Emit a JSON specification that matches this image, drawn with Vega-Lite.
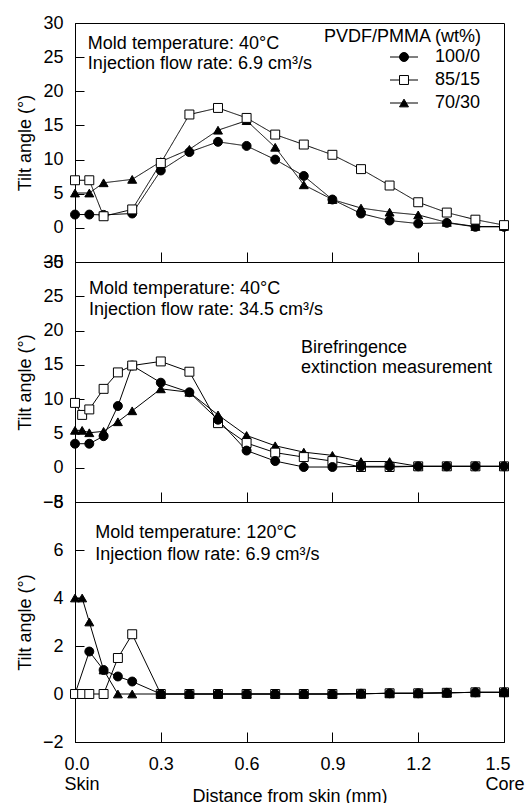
{
  "$schema": "https://vega.github.io/schema/vega-lite/v6.json",
  "padding": {"left": 15, "top": 13, "right": 0, "bottom": 0},
  "spacing": 0,
  "bounds": "flush",
  "config": {
    "font": "Liberation Sans",
    "view": {"stroke": "black", "strokeWidth": 1},
    "axis": {"grid": false, "domainColor": "black", "domainWidth": 1, "tickColor": "black", "tickWidth": 1, "labelColor": "black", "titleColor": "black", "labelFontSize": 18, "titleFontSize": 18, "titleFontWeight": "normal", "labelFont": "Liberation Sans", "titleFont": "Liberation Sans", "labelOverlap": false, "labelFlush": false},
    "concat": {"spacing": 0}
  },
  "datasets": {
    "pts": [
      {"p":1,"s":"100/0","x":0,"y":1.95},{"p":1,"s":"100/0","x":0.05,"y":1.95},{"p":1,"s":"100/0","x":0.1,"y":1.9},{"p":1,"s":"100/0","x":0.2,"y":2.1},{"p":1,"s":"100/0","x":0.3,"y":8.4},{"p":1,"s":"100/0","x":0.4,"y":11.1},{"p":1,"s":"100/0","x":0.5,"y":12.6},{"p":1,"s":"100/0","x":0.6,"y":12.0},{"p":1,"s":"100/0","x":0.7,"y":10.0},{"p":1,"s":"100/0","x":0.8,"y":7.6},{"p":1,"s":"100/0","x":0.9,"y":4.15},{"p":1,"s":"100/0","x":1.0,"y":2.1},{"p":1,"s":"100/0","x":1.1,"y":1.07},{"p":1,"s":"100/0","x":1.2,"y":0.63},{"p":1,"s":"100/0","x":1.3,"y":0.73},{"p":1,"s":"100/0","x":1.4,"y":0.15},{"p":1,"s":"100/0","x":1.5,"y":0.15},
      {"p":1,"s":"70/30","x":0,"y":5.1},{"p":1,"s":"70/30","x":0.05,"y":5.1},{"p":1,"s":"70/30","x":0.1,"y":6.6},{"p":1,"s":"70/30","x":0.2,"y":7.1},{"p":1,"s":"70/30","x":0.3,"y":9.7},{"p":1,"s":"70/30","x":0.4,"y":11.5},{"p":1,"s":"70/30","x":0.5,"y":14.3},{"p":1,"s":"70/30","x":0.6,"y":15.7},{"p":1,"s":"70/30","x":0.7,"y":11.8},{"p":1,"s":"70/30","x":0.8,"y":6.3},{"p":1,"s":"70/30","x":0.9,"y":4.15},{"p":1,"s":"70/30","x":1.0,"y":2.9},{"p":1,"s":"70/30","x":1.1,"y":2.3},{"p":1,"s":"70/30","x":1.2,"y":1.9},{"p":1,"s":"70/30","x":1.3,"y":0.8},{"p":1,"s":"70/30","x":1.4,"y":0.2},{"p":1,"s":"70/30","x":1.5,"y":0.2},
      {"p":1,"s":"85/15","x":0,"y":6.97},{"p":1,"s":"85/15","x":0.05,"y":6.97},{"p":1,"s":"85/15","x":0.1,"y":1.7},{"p":1,"s":"85/15","x":0.2,"y":2.7},{"p":1,"s":"85/15","x":0.3,"y":9.5},{"p":1,"s":"85/15","x":0.4,"y":16.6},{"p":1,"s":"85/15","x":0.5,"y":17.56},{"p":1,"s":"85/15","x":0.6,"y":16.1},{"p":1,"s":"85/15","x":0.7,"y":13.66},{"p":1,"s":"85/15","x":0.8,"y":12.2},{"p":1,"s":"85/15","x":0.9,"y":10.7},{"p":1,"s":"85/15","x":1.0,"y":8.6},{"p":1,"s":"85/15","x":1.1,"y":6.2},{"p":1,"s":"85/15","x":1.2,"y":3.75},{"p":1,"s":"85/15","x":1.3,"y":2.24},{"p":1,"s":"85/15","x":1.4,"y":1.2},{"p":1,"s":"85/15","x":1.5,"y":0.4},

      {"p":2,"s":"100/0","x":0,"y":3.5},{"p":2,"s":"100/0","x":0.05,"y":3.5},{"p":2,"s":"100/0","x":0.1,"y":4.6},{"p":2,"s":"100/0","x":0.15,"y":9.0},{"p":2,"s":"100/0","x":0.2,"y":14.9},{"p":2,"s":"100/0","x":0.3,"y":12.4},{"p":2,"s":"100/0","x":0.4,"y":11.0},
      {"p":2,"s":"70/30","x":0,"y":5.45},{"p":2,"s":"70/30","x":0.025,"y":5.45},{"p":2,"s":"70/30","x":0.05,"y":5.1},{"p":2,"s":"70/30","x":0.1,"y":5.3},{"p":2,"s":"70/30","x":0.15,"y":6.7},{"p":2,"s":"70/30","x":0.2,"y":8.3},{"p":2,"s":"70/30","x":0.3,"y":11.5},{"p":2,"s":"70/30","x":0.4,"y":11.0},{"p":2,"s":"70/30","x":0.5,"y":7.7},{"p":2,"s":"70/30","x":0.6,"y":4.7},{"p":2,"s":"70/30","x":0.7,"y":3.2},{"p":2,"s":"70/30","x":0.8,"y":2.27},{"p":2,"s":"70/30","x":0.9,"y":1.8},{"p":2,"s":"70/30","x":1.0,"y":0.9},{"p":2,"s":"70/30","x":1.1,"y":0.9},{"p":2,"s":"70/30","x":1.2,"y":0.2},{"p":2,"s":"70/30","x":1.3,"y":0.2},{"p":2,"s":"70/30","x":1.4,"y":0.2},{"p":2,"s":"70/30","x":1.5,"y":0.2},
      {"p":2,"s":"85/15","x":0,"y":9.45},{"p":2,"s":"85/15","x":0.025,"y":7.7},{"p":2,"s":"85/15","x":0.05,"y":8.5},{"p":2,"s":"85/15","x":0.1,"y":11.5},{"p":2,"s":"85/15","x":0.15,"y":13.9},{"p":2,"s":"85/15","x":0.2,"y":14.9},{"p":2,"s":"85/15","x":0.3,"y":15.5},{"p":2,"s":"85/15","x":0.4,"y":14.0},{"p":2,"s":"85/15","x":0.5,"y":6.5},{"p":2,"s":"85/15","x":0.6,"y":3.6},{"p":2,"s":"85/15","x":0.7,"y":2.2},{"p":2,"s":"85/15","x":0.8,"y":1.55},{"p":2,"s":"85/15","x":0.9,"y":0.97},{"p":2,"s":"85/15","x":1.0,"y":0.1},{"p":2,"s":"85/15","x":1.1,"y":0.1},{"p":2,"s":"85/15","x":1.2,"y":0.2},{"p":2,"s":"85/15","x":1.3,"y":0.2},{"p":2,"s":"85/15","x":1.4,"y":0.2},{"p":2,"s":"85/15","x":1.5,"y":0.2},
      {"p":2,"s":"100/0","x":0.5,"y":7.0},{"p":2,"s":"100/0","x":0.6,"y":2.5},{"p":2,"s":"100/0","x":0.7,"y":0.97},{"p":2,"s":"100/0","x":0.8,"y":0.1},{"p":2,"s":"100/0","x":0.9,"y":0.1},{"p":2,"s":"100/0","x":1.0,"y":0.2},{"p":2,"s":"100/0","x":1.1,"y":0.2},{"p":2,"s":"100/0","x":1.2,"y":0.2},{"p":2,"s":"100/0","x":1.3,"y":0.2},{"p":2,"s":"100/0","x":1.4,"y":0.2},{"p":2,"s":"100/0","x":1.5,"y":0.2},

      {"p":3,"s":"100/0","x":0,"y":0},
      {"p":3,"s":"85/15","x":0,"y":0},{"p":3,"s":"85/15","x":0.025,"y":0},{"p":3,"s":"85/15","x":0.05,"y":0},{"p":3,"s":"85/15","x":0.1,"y":0},{"p":3,"s":"85/15","x":0.15,"y":1.5},{"p":3,"s":"85/15","x":0.2,"y":2.49},{"p":3,"s":"85/15","x":0.3,"y":0},{"p":3,"s":"85/15","x":0.4,"y":0},{"p":3,"s":"85/15","x":0.5,"y":0},{"p":3,"s":"85/15","x":0.6,"y":0},{"p":3,"s":"85/15","x":0.7,"y":0},{"p":3,"s":"85/15","x":0.8,"y":0},{"p":3,"s":"85/15","x":0.9,"y":0},{"p":3,"s":"85/15","x":1.0,"y":0.01},{"p":3,"s":"85/15","x":1.1,"y":0.03},{"p":3,"s":"85/15","x":1.2,"y":0.03},{"p":3,"s":"85/15","x":1.3,"y":0.05},{"p":3,"s":"85/15","x":1.4,"y":0.07},{"p":3,"s":"85/15","x":1.5,"y":0.07},
      {"p":3,"s":"70/30","x":0,"y":4.0},{"p":3,"s":"70/30","x":0.025,"y":4.0},{"p":3,"s":"70/30","x":0.05,"y":3.0},{"p":3,"s":"70/30","x":0.1,"y":1.0},{"p":3,"s":"70/30","x":0.15,"y":0},{"p":3,"s":"70/30","x":0.2,"y":0},{"p":3,"s":"70/30","x":0.3,"y":0},{"p":3,"s":"70/30","x":0.4,"y":0},{"p":3,"s":"70/30","x":0.5,"y":0},{"p":3,"s":"70/30","x":0.6,"y":0},{"p":3,"s":"70/30","x":0.7,"y":0},{"p":3,"s":"70/30","x":0.8,"y":0},{"p":3,"s":"70/30","x":0.9,"y":0},{"p":3,"s":"70/30","x":1.0,"y":0.01},{"p":3,"s":"70/30","x":1.1,"y":0.03},{"p":3,"s":"70/30","x":1.2,"y":0.03},{"p":3,"s":"70/30","x":1.3,"y":0.05},{"p":3,"s":"70/30","x":1.4,"y":0.07},{"p":3,"s":"70/30","x":1.5,"y":0.07},
      {"p":3,"s":"100/0","x":0.05,"y":1.77},{"p":3,"s":"100/0","x":0.1,"y":1.0},{"p":3,"s":"100/0","x":0.15,"y":0.73},{"p":3,"s":"100/0","x":0.2,"y":0.52},{"p":3,"s":"100/0","x":0.3,"y":0},{"p":3,"s":"100/0","x":0.4,"y":0},{"p":3,"s":"100/0","x":0.5,"y":0},{"p":3,"s":"100/0","x":0.6,"y":0},{"p":3,"s":"100/0","x":0.7,"y":0},{"p":3,"s":"100/0","x":0.8,"y":0},{"p":3,"s":"100/0","x":0.9,"y":0},{"p":3,"s":"100/0","x":1.0,"y":0.01},{"p":3,"s":"100/0","x":1.1,"y":0.03},{"p":3,"s":"100/0","x":1.2,"y":0.03},{"p":3,"s":"100/0","x":1.3,"y":0.05},{"p":3,"s":"100/0","x":1.4,"y":0.07},{"p":3,"s":"100/0","x":1.5,"y":0.07}
    ],
    "notes": [
      {"p":1,"x":0.045,"y":26.9,"t":"Mold temperature: 40°C"},
      {"p":1,"x":0.045,"y":23.95,"t":"Injection flow rate: 6.9 cm³/s"},
      {"p":2,"x":0.049,"y":26.1,"t":"Mold temperature: 40°C"},
      {"p":2,"x":0.049,"y":23.0,"t":"Injection flow rate: 34.5 cm³/s"},
      {"p":2,"x":0.79,"y":17.5,"t":"Birefringence"},
      {"p":2,"x":0.79,"y":14.5,"t":"extinction measurement"},
      {"p":3,"x":0.071,"y":6.72,"t":"Mold temperature: 120°C"},
      {"p":3,"x":0.071,"y":5.78,"t":"Injection flow rate: 6.9 cm³/s"}
    ]
  },
  "resolve": {"scale": {"shape": "independent", "fill": "independent", "stroke": "independent", "strokeDash": "independent", "y": "independent"}, "legend": {"shape": "independent", "fill": "independent", "stroke": "independent", "strokeDash": "independent"}},
  "vconcat": [
    {
      "width": 429, "height": 239,
      "data": {"name": "pts"},
      "encoding": {
        "x": {"field": "x", "type": "quantitative", "scale": {"domain": [0, 1.5], "nice": false, "zero": false}, "axis": {"values": [0, 0.3, 0.6, 0.9, 1.2, 1.5], "labels": false, "title": null, "tickSize": -10}},
        "y": {"field": "y", "type": "quantitative", "scale": {"domain": [-5, 30], "nice": false, "zero": false}, "axis": {"values": [-5, 0, 5, 10, 15, 20, 25, 30], "title": "Tilt angle (°)", "tickSize": -9, "labelPadding": 21, "titlePadding": 8}}
      },
      "layer": [
        {"transform": [{"filter": "datum.p == 1"}], "mark": {"type": "line", "color": "black", "strokeWidth": 1},
         "encoding": {
           "strokeDash": {"field": "s", "type": "nominal", "scale": {"domain": ["100/0", "85/15", "70/30", "zz"], "range": [[1, 0], [1, 0], [1, 0], [1, 0]]},
             "legend": {"values": ["100/0", "85/15", "70/30"], "orient": "none", "legendX": 249, "legendY": 5, "title": "PVDF/PMMA (wt%)", "titleFontSize": 18, "titleFontWeight": "normal", "titleOpacity": 0, "titlePadding": 2, "titleAnchor": "start", "labelFontSize": 18, "labelOpacity": 0, "labelOffset": 22, "symbolType": "M-2,0H2", "symbolOffset": 71, "symbolSize": 196, "symbolStrokeWidth": 1, "symbolStrokeColor": "black", "symbolOpacity": 1, "rowPadding": 5, "padding": 0}}
         }},
        {"transform": [{"filter": "datum.p == 1"}], "mark": {"type": "point", "filled": true, "size": 80, "strokeWidth": 1, "opacity": 1},
         "encoding": {
           "shape": {"field": "s", "type": "nominal", "scale": {"domain": ["100/0", "85/15", "70/30"], "range": ["circle", "square", "triangle-up"]},
             "legend": {"orient": "none", "legendX": 249, "legendY": 5, "title": "PVDF/PMMA (wt%)", "titleFontSize": 18, "titleFontWeight": "normal", "titleColor": "black", "titlePadding": 2, "titleAnchor": "start", "labelFontSize": 18, "labelColor": "black", "labelOffset": 22, "symbolOffset": 71, "symbolSize": 80, "symbolStrokeWidth": 1, "symbolOpacity": 1, "rowPadding": 5, "padding": 0}},
           "fill": {"field": "s", "type": "nominal", "scale": {"domain": ["100/0", "85/15", "70/30"], "range": ["black", "white", "black"]}, "legend": null},
           "stroke": {"field": "s", "type": "nominal", "scale": {"domain": ["100/0", "85/15", "70/30"], "range": ["black", "black", "black"]}, "legend": null}
         }},
        {"data": {"name": "notes"}, "transform": [{"filter": "datum.p == 1"}], "mark": {"type": "text", "align": "left", "baseline": "middle", "fontSize": 18, "color": "black"}, "encoding": {"text": {"field": "t"}}}
      ]
    },
    {
      "width": 429, "height": 240,
      "data": {"name": "pts"},
      "encoding": {
        "x": {"field": "x", "type": "quantitative", "scale": {"domain": [0, 1.5], "nice": false, "zero": false}, "axis": {"values": [0, 0.3, 0.6, 0.9, 1.2, 1.5], "labels": false, "title": null, "tickSize": -10}},
        "y": {"field": "y", "type": "quantitative", "scale": {"domain": [-5, 30], "nice": false, "zero": false}, "axis": {"values": [-5, 0, 5, 10, 15, 20, 25, 30], "title": "Tilt angle (°)", "tickSize": -9, "labelPadding": 21, "titlePadding": 8}}
      },
      "layer": [
        {"transform": [{"filter": "datum.p == 2"}], "mark": {"type": "line", "color": "black", "strokeWidth": 1}, "encoding": {"detail": {"field": "s"}}},
        {"transform": [{"filter": "datum.p == 2"}], "mark": {"type": "point", "filled": true, "size": 80, "stroke": "black", "strokeWidth": 1, "opacity": 1},
         "encoding": {
           "shape": {"condition": [{"test": "datum.s == '100/0'", "value": "circle"}, {"test": "datum.s == '85/15'", "value": "square"}], "value": "triangle-up"},
           "fill": {"condition": {"test": "datum.s == '85/15'", "value": "white"}, "value": "black"}
         }},
        {"data": {"name": "notes"}, "transform": [{"filter": "datum.p == 2"}], "mark": {"type": "text", "align": "left", "baseline": "middle", "fontSize": 18, "color": "black"}, "encoding": {"text": {"field": "t"}}}
      ]
    },
    {
      "width": 429, "height": 240,
      "data": {"name": "pts"},
      "encoding": {
        "x": {"field": "x", "type": "quantitative", "scale": {"domain": [0, 1.5], "nice": false, "zero": false},
          "axis": {"values": [0, 0.3, 0.6, 0.9, 1.2, 1.5], "title": "Distance from skin (mm)", "tickSize": -10, "labelPadding": 23, "labelBaseline": "top", "labelLineHeight": 20, "titlePadding": -6,
            "labelExpr": "datum.value == 0 ? ['0.0', 'Skin'] : (datum.value == 1.5 ? ['1.5', 'Core'] : format(datum.value, '.1f'))",
            "labelAlign": {"condition": [{"test": "datum.value == 0", "value": "left"}, {"test": "datum.value == 1.5", "value": "left"}], "value": "center"},
            "labelOffset": {"condition": [{"test": "datum.value == 0", "value": -11}, {"test": "datum.value == 1.5", "value": -19}], "value": 0}}},
        "y": {"field": "y", "type": "quantitative", "scale": {"domain": [-2, 8], "nice": false, "zero": false}, "axis": {"values": [-2, 0, 2, 4, 6, 8], "title": "Tilt angle (°)", "tickSize": -9, "labelPadding": 21, "titlePadding": 8}}
      },
      "layer": [
        {"transform": [{"filter": "datum.p == 3"}], "mark": {"type": "line", "color": "black", "strokeWidth": 1}, "encoding": {"detail": {"field": "s"}}},
        {"transform": [{"filter": "datum.p == 3"}], "mark": {"type": "point", "filled": true, "size": 80, "stroke": "black", "strokeWidth": 1, "opacity": 1},
         "encoding": {
           "shape": {"condition": [{"test": "datum.s == '100/0'", "value": "circle"}, {"test": "datum.s == '85/15'", "value": "square"}], "value": "triangle-up"},
           "fill": {"condition": {"test": "datum.s == '85/15'", "value": "white"}, "value": "black"}
         }},
        {"data": {"name": "notes"}, "transform": [{"filter": "datum.p == 3"}], "mark": {"type": "text", "align": "left", "baseline": "middle", "fontSize": 18, "color": "black"}, "encoding": {"text": {"field": "t"}}}
      ]
    }
  ]
}
